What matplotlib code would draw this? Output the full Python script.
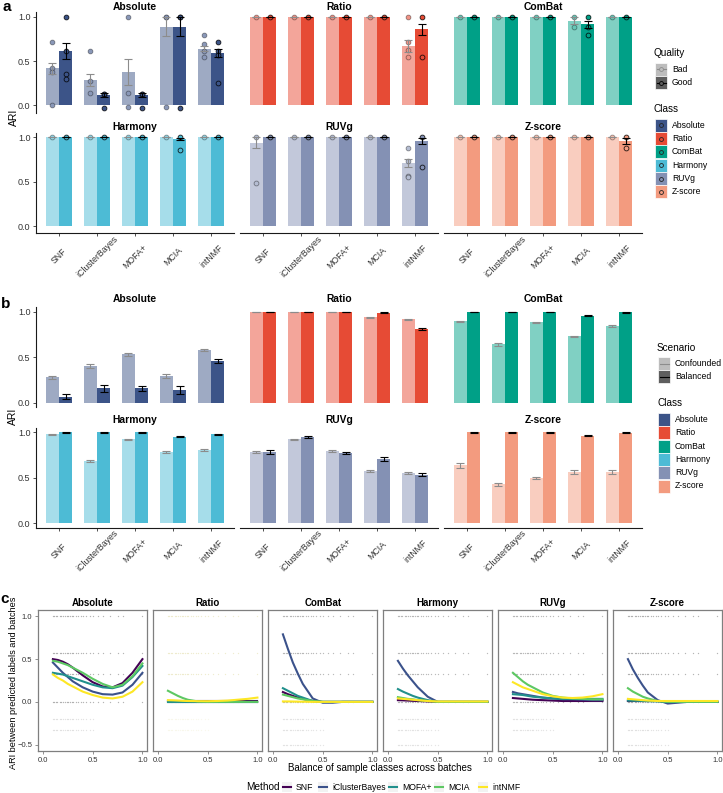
import numpy as np
import matplotlib
matplotlib.use('Agg')
import matplotlib.pyplot as plt
from matplotlib.patches import Rectangle
from matplotlib.colors import to_rgb

plt.rcParams['font.family'] = ['Liberation Sans', 'DejaVu Sans']

methods = ['SNF', 'iClusterBayes', 'MOFA+', 'MCIA', 'intNMF']
classes = ['Absolute', 'Ratio', 'ComBat', 'Harmony', 'RUVg', 'Z-score']
class_colors = ['#3C5488', '#E64B35', '#00A087', '#4DBBD5', '#8491B4', '#F39B7F']
method_colors = ['#440154', '#3B528B', '#21908C', '#5DC863', '#FDE725']

# panel a: mean ARI (bad / good quality), SE and individual runs
a_bad_mean = [[0.42, 0.29, 0.38, 0.89, 0.64],
              [1.0, 1.0, 1.0, 1.0, 0.67],
              [1.0, 1.0, 1.0, 0.96, 1.0],
              [1.0, 1.0, 1.0, 1.0, 1.0],
              [0.94, 1.0, 1.0, 1.0, 0.71],
              [1.0, 1.0, 1.0, 1.0, 1.0]]
a_bad_se = [[0.06, 0.07, 0.15, 0.11, 0.03],
            [0, 0, 0, 0, 0.07],
            [0, 0, 0, 0.035, 0],
            [0, 0, 0, 0, 0],
            [0.06, 0, 0, 0, 0.04],
            [0, 0, 0, 0, 0]]
a_good_mean = [[0.62, 0.12, 0.12, 0.89, 0.59],
               [1.0, 1.0, 1.0, 1.0, 0.86],
               [1.0, 1.0, 1.0, 0.92, 1.0],
               [1.0, 1.0, 1.0, 0.98, 1.0],
               [1.0, 1.0, 1.0, 1.0, 0.96],
               [1.0, 1.0, 1.0, 1.0, 0.96]]
a_good_se = [[0.09, 0.02, 0.02, 0.105, 0.045],
             [0, 0, 0, 0, 0.066],
             [0, 0, 0, 0.04, 0],
             [0, 0, 0, 0.015, 0],
             [0, 0, 0, 0, 0.035],
             [0, 0, 0, 0, 0.035]]
a_bad_pts = [[[0.72, 0.42, 0.38, 0.0], [0.61, 0.28, 0.135], [1.0, 0.135, -0.02], [1.0, 1.0, -0.02], [0.80, 0.69, 0.61, 0.55]],
             [[1.0], [1.0], [1.0], [1.0], [1.0, 0.72, 0.63, 0.55]],
             [[1.0], [1.0], [1.0], [1.0, 0.89], [1.0]],
             [[1.0], [1.0], [1.0], [1.0], [1.0]],
             [[1.0, 0.48], [1.0], [1.0], [1.0], [0.88, 0.73, 0.56, 0.55]],
             [[1.0], [1.0], [1.0], [1.0], [1.0]]]
a_good_pts = [[[1.0, 0.62, 0.36, 0.30], [0.13, 0.13, -0.03], [0.13, 0.13, -0.03], [1.0, 1.0, -0.03], [0.72, 0.62, 0.57, 0.25]],
              [[1.0], [1.0], [1.0], [1.0], [1.0, 0.55]],
              [[1.0], [1.0], [1.0], [1.0, 0.89, 0.80], [1.0]],
              [[1.0], [1.0], [1.0], [1.0, 0.86], [1.0]],
              [[1.0], [1.0], [1.0], [1.0], [1.0, 0.67]],
              [[1.0], [1.0], [1.0], [1.0], [1.0, 0.88]]]

# panel b: confounded / balanced scenario
b_conf_mean = [[0.278, 0.40, 0.53, 0.29, 0.575],
               [1.0, 1.0, 1.0, 0.938, 0.916],
               [0.897, 0.64, 0.886, 0.73, 0.846],
               [0.978, 0.685, 0.926, 0.785, 0.81],
               [0.785, 0.926, 0.796, 0.574, 0.556],
               [0.637, 0.43, 0.496, 0.563, 0.563]]
b_conf_se = [[0.015, 0.02, 0.015, 0.02, 0.01],
             [0.002, 0.002, 0.002, 0.005, 0.005],
             [0.005, 0.015, 0.005, 0.008, 0.01],
             [0.004, 0.012, 0.005, 0.008, 0.01],
             [0.01, 0.005, 0.008, 0.008, 0.01],
             [0.025, 0.015, 0.012, 0.02, 0.018]]
b_bal_mean = [[0.065, 0.157, 0.157, 0.14, 0.458],
              [1.0, 1.0, 1.0, 0.99, 0.81],
              [1.0, 1.0, 1.0, 0.956, 0.993],
              [1.0, 1.0, 1.0, 0.952, 0.98],
              [0.785, 0.952, 0.774, 0.707, 0.533],
              [1.0, 1.0, 1.0, 0.963, 0.995]]
b_bal_se = [[0.025, 0.035, 0.028, 0.04, 0.025],
            [0.002, 0.002, 0.002, 0.007, 0.012],
            [0.002, 0.002, 0.002, 0.006, 0.004],
            [0.002, 0.002, 0.002, 0.005, 0.005],
            [0.02, 0.01, 0.015, 0.018, 0.015],
            [0.002, 0.002, 0.002, 0.005, 0.004]]

# panel c: smoothed ARI(labels, batches) vs balance, per class and method
c_x = [0.1, 0.15, 0.2, 0.25, 0.3, 0.4, 0.5, 0.6, 0.7, 0.8, 0.9, 1.0]
c_curves = [
    [[0.50, 0.49, 0.47, 0.44, 0.40, 0.31, 0.23, 0.18, 0.17, 0.22, 0.34, 0.50],
     [0.46, 0.40, 0.34, 0.29, 0.24, 0.17, 0.12, 0.09, 0.085, 0.11, 0.20, 0.34],
     [0.34, 0.33, 0.32, 0.30, 0.28, 0.24, 0.20, 0.17, 0.16, 0.19, 0.29, 0.42],
     [0.48, 0.47, 0.45, 0.43, 0.40, 0.34, 0.27, 0.21, 0.17, 0.20, 0.30, 0.45],
     [0.32, 0.28, 0.25, 0.21, 0.18, 0.12, 0.08, 0.05, 0.04, 0.06, 0.12, 0.23]],
    [[0.01, 0.01, 0.01, 0.01, 0.01, 0.01, 0.01, 0.01, 0.01, 0.01, 0.01, 0.01],
     [0.0, 0.0, 0.0, 0.0, 0.0, 0.0, 0.0, 0.0, 0.0, 0.0, 0.0, 0.0],
     [0.0, 0.0, 0.0, 0.0, 0.0, 0.0, 0.0, 0.0, 0.0, 0.0, 0.0, 0.0],
     [0.13, 0.10, 0.07, 0.045, 0.025, 0.005, 0.0, 0.0, 0.0, 0.0, 0.0, 0.0],
     [0.02, 0.018, 0.015, 0.012, 0.01, 0.008, 0.008, 0.01, 0.015, 0.025, 0.035, 0.05]],
    [[0.115, 0.09, 0.07, 0.05, 0.035, 0.01, 0.0, 0.0, 0.0, 0.0, 0.0, 0.0],
     [0.79, 0.62, 0.46, 0.33, 0.21, 0.04, -0.01, -0.01, 0.0, 0.0, 0.0, 0.0],
     [0.16, 0.13, 0.10, 0.07, 0.05, 0.01, 0.0, 0.0, 0.0, 0.0, 0.0, 0.0],
     [0.085, 0.07, 0.055, 0.04, 0.03, 0.01, 0.0, 0.0, 0.0, 0.0, 0.0, 0.0],
     [0.005, 0.005, 0.004, 0.003, 0.002, 0.0, 0.0, 0.0, 0.0, 0.0, 0.0, 0.0]],
    [[0.02, 0.018, 0.015, 0.012, 0.01, 0.005, 0.0, 0.0, 0.0, 0.0, 0.0, 0.0],
     [0.48, 0.39, 0.31, 0.24, 0.17, 0.06, 0.0, 0.0, 0.0, 0.0, 0.0, 0.0],
     [0.15, 0.12, 0.095, 0.07, 0.05, 0.02, 0.0, 0.0, 0.0, 0.0, 0.0, 0.0],
     [0.055, 0.045, 0.035, 0.03, 0.02, 0.01, 0.0, 0.0, 0.0, 0.0, 0.0, 0.0],
     [0.04, 0.035, 0.03, 0.025, 0.02, 0.01, 0.005, 0.005, 0.005, 0.005, 0.005, 0.005]],
    [[0.045, 0.04, 0.035, 0.03, 0.025, 0.02, 0.015, 0.01, 0.01, 0.01, 0.01, 0.01],
     [0.116, 0.10, 0.09, 0.08, 0.07, 0.05, 0.04, 0.03, 0.03, 0.025, 0.02, 0.02],
     [0.09, 0.085, 0.08, 0.07, 0.06, 0.05, 0.04, 0.035, 0.035, 0.035, 0.035, 0.035],
     [0.34, 0.29, 0.24, 0.20, 0.17, 0.11, 0.07, 0.05, 0.04, 0.035, 0.03, 0.03],
     [0.23, 0.20, 0.17, 0.15, 0.13, 0.09, 0.065, 0.05, 0.045, 0.05, 0.065, 0.09]],
    [[0.01, 0.01, 0.01, 0.01, 0.01, 0.01, 0.0, 0.0, 0.0, 0.0, 0.0, 0.0],
     [0.50, 0.38, 0.28, 0.19, 0.11, 0.02, -0.02, -0.01, 0.0, 0.0, 0.0, 0.0],
     [0.015, 0.013, 0.012, 0.01, 0.008, 0.005, 0.0, 0.0, 0.0, 0.0, 0.0, 0.0],
     [0.16, 0.12, 0.09, 0.06, 0.04, 0.01, 0.0, 0.0, 0.0, 0.0, 0.0, 0.0],
     [0.035, 0.03, 0.025, 0.02, 0.015, 0.01, 0.01, 0.01, 0.01, 0.01, 0.01, 0.01]]]

# raw runs in panel c sit on a few discrete ARI levels
c_pt_x = [0.10, 0.11, 0.13, 0.14, 0.17, 0.18, 0.20, 0.22, 0.24, 0.25, 0.27, 0.29, 0.30,
          0.33, 0.35, 0.38, 0.40, 0.43, 0.47, 0.50, 0.55, 0.60, 0.67, 0.75, 0.80, 1.00]
c_levels = [1.0, 0.57, 0.33, 0.0]
c_neg_levels = [[-0.2, -0.33], [-0.2, -0.33], [-0.2, -0.33, -0.5],
                [-0.2, -0.33, -0.5], [-0.2, -0.33], [-0.2, -0.33, -0.5]]
c_pt_colors = ['#444444', '#D8D08A', '#555555', '#555555', '#555555', '#444444']

W, H = 723, 793
fig = plt.figure(figsize=(W / 100, H / 100), dpi=100)
TXT = '#333333'


def px_axes(x0, y0, x1, y1):
    return fig.add_axes([x0 / W, 1 - y1 / H, (x1 - x0) / W, (y1 - y0) / H])


def tint(c, a=0.5):
    r = np.array(to_rgb(c))
    return tuple(1 - a * (1 - r))


col_px = [(36, 234), (240, 438), (444, 642)]
a_rows = [(12.4, 112.6), (132.7, 233.3)]
b_rows = [(307.2, 407.2), (427.8, 527.8)]


def bar_facet(ax, k, row, col, lo_m, lo_se, hi_m, hi_se, ylim, tpad, lo_pts=None, hi_pts=None):
    x = np.arange(len(methods))
    c = class_colors[k]
    ax.bar(x - 0.175, lo_m, width=0.35, color=tint(c), zorder=1)
    ax.bar(x + 0.175, hi_m, width=0.35, color=c, zorder=1)
    if lo_pts is not None:
        for j in range(len(methods)):
            ax.scatter([x[j] - 0.175] * len(lo_pts[j]), lo_pts[j], s=12, facecolor=tint(c, 0.6),
                       edgecolor=(0, 0, 0, 0.4), linewidth=0.6, zorder=3)
            ax.scatter([x[j] + 0.175] * len(hi_pts[j]), hi_pts[j], s=12, facecolor=c,
                       edgecolor=(0, 0, 0, 0.85), linewidth=0.6, zorder=3)
    ax.errorbar(x - 0.175, lo_m, yerr=lo_se, fmt='none', ecolor='#8C8C8C', elinewidth=0.8,
                capsize=2.6, capthick=0.8, zorder=4)
    ax.errorbar(x + 0.175, hi_m, yerr=hi_se, fmt='none', ecolor='black', elinewidth=0.8,
                capsize=2.6, capthick=0.8, zorder=4)
    ax.set_xlim(-0.6, 4.6)
    ax.set_ylim(*ylim)
    ax.set_title(classes[k], fontsize=7.4, fontweight='bold', pad=tpad)
    ax.patch.set_alpha(0)
    for s in ['top', 'right']:
        ax.spines[s].set_visible(False)
    ax.spines['left'].set_visible(col == 0)
    ax.spines['bottom'].set_visible(row == 1)
    for s in ['left', 'bottom']:
        ax.spines[s].set_linewidth(0.8)
        ax.spines[s].set_color('#1a1a1a')
    ax.tick_params(labelsize=6.5, colors=TXT, length=2.5, width=0.6, pad=1.5)
    if col == 0:
        ax.set_yticks([0, 0.5, 1.0])
        ax.set_yticklabels(['0.0', '0.5', '1.0'])
    else:
        ax.set_yticks([])
    if row == 1:
        ax.set_xticks(x)
        ax.set_xticklabels(methods, rotation=45, ha='center', va='center', fontsize=6.3)
        ax.tick_params(axis='x', pad=14)
    else:
        ax.set_xticks([])


for k in range(6):
    row, col = divmod(k, 3)
    x0, x1 = col_px[col]
    ax = px_axes(x0, a_rows[row][0], x1, a_rows[row][1])
    bar_facet(ax, k, row, col, a_bad_mean[k], a_bad_se[k], a_good_mean[k], a_good_se[k],
              (-0.082, 1.052), 2, a_bad_pts[k], a_good_pts[k])
    ax = px_axes(x0, b_rows[row][0], x1, b_rows[row][1])
    bar_facet(ax, k, row, col, b_conf_mean[k], b_conf_se[k], b_bal_mean[k], b_bal_se[k],
              (-0.05, 1.05), 3.5)

# panel c
c_starts = [38, 153, 268, 383, 498, 613]
for k in range(6):
    ax = px_axes(c_starts[k], 610, c_starts[k] + 109.4, 751)
    for lv in c_levels:
        ax.scatter(c_pt_x, [lv] * len(c_pt_x), s=0.9, color=c_pt_colors[k], alpha=0.4,
                   linewidths=0, zorder=1)
    for lv in c_neg_levels[k]:
        ax.scatter(c_pt_x[:20], [lv] * 20, s=0.9, color=c_pt_colors[k], alpha=0.15,
                   linewidths=0, zorder=1)
    for m in range(len(methods)):
        ax.plot(c_x, c_curves[k][m], color=method_colors[m], lw=1.5, zorder=3)
    ax.set_xlim(-0.05, 1.05)
    ax.set_ylim(-0.575, 1.075)
    ax.set_title(classes[k], fontsize=7, fontweight='bold', pad=3)
    for s in ax.spines.values():
        s.set_color('#7F7F7F')
        s.set_linewidth(0.9)
    ax.tick_params(labelsize=5.5, colors='#7F7F7F', labelcolor=TXT, length=2.5, width=0.6, pad=1.5)
    ax.set_xticks([0, 0.5, 1.0])
    ax.set_xticklabels(['0.0', '0.5', '1.0'])
    if k == 0:
        ax.set_yticks([-0.5, 0, 0.5, 1.0])
        ax.set_yticklabels(['\u22120.5', '0.0', '0.5', '1.0'])
    else:
        ax.set_yticks([])

# overlay for labels and legends (pixel coordinates)
ov = fig.add_axes([0, 0, 1, 1])
ov.set_xlim(0, W)
ov.set_ylim(H, 0)
ov.axis('off')
ov.patch.set_alpha(0)

for lab, (lx, ly) in zip(['a', 'b', 'c'], [(7, 7), (6, 304), (4.5, 599)]):
    ov.text(lx, ly, lab, fontsize=11, fontweight='bold', ha='center', va='center')
ov.text(14, 117, 'ARI', fontsize=7.5, rotation=90, ha='center', va='center')
ov.text(13, 416, 'ARI', fontsize=7.5, rotation=90, ha='center', va='center')
ov.text(13.5, 683, 'ARI between predicted labels and batches', fontsize=6.6, rotation=90,
        ha='center', va='center')
ov.text(380, 768, 'Balance of sample classes across batches', fontsize=7, ha='center', va='center')


def legend_block(title_y, group_title, group_labels, group_ys, key_x, text_x, with_point):
    ov.text(key_x - 1, title_y, group_title, fontsize=7.2, va='center')
    shades = [('#BDBDBD', '#8C8C8C'), ('#5E5E5E', 'black')]
    for (fc, lc), lab, yy in zip(shades, group_labels, group_ys):
        ov.add_patch(Rectangle((key_x, yy - 6.5), 12, 13, facecolor=fc, edgecolor='white', lw=0.5))
        ov.plot([key_x + 1.5, key_x + 10.5], [yy, yy], color=lc, lw=0.8)
        if with_point:
            ov.plot(key_x + 6, yy, 'o', ms=2.8, mfc=fc, mec=lc, mew=0.6)
        ov.text(text_x, yy, lab, fontsize=6.2, va='center')


legend_block(53, 'Quality', ['Bad', 'Good'], [69, 82.5], 655, 672, True)
ov.text(654, 109, 'Class', fontsize=7.2, va='center')
for i, (cl, cc) in enumerate(zip(classes, class_colors)):
    yy = 125.3 + 13.3 * i
    ov.add_patch(Rectangle((655, yy - 6.5), 12, 13, facecolor=cc, edgecolor='white', lw=0.5))
    ov.plot(655 + 6, yy, 'o', ms=2.8, mfc=cc, mec='#222222', mew=0.6)
    ov.text(672, yy, cl, fontsize=6.2, va='center')

legend_block(348, 'Scenario', ['Confounded', 'Balanced'], [363.5, 376.7], 658, 675, False)
ov.text(657, 403, 'Class', fontsize=7.2, va='center')
for i, (cl, cc) in enumerate(zip(classes, class_colors)):
    yy = 419.5 + 13.3 * i
    ov.add_patch(Rectangle((658, yy - 6.5), 12, 13, facecolor=cc, edgecolor='white', lw=0.5))
    ov.text(675, yy, cl, fontsize=6.2, va='center')

# method legend at the bottom
ov.text(246, 787, 'Method', fontsize=7.2, va='center')
key_xs = [287, 323, 393, 439, 483]
for m, kx in enumerate(key_xs):
    ov.add_patch(Rectangle((kx - 5, 782), 10, 10, facecolor='#F2F2F2', edgecolor='none'))
    ov.plot([kx - 4, kx + 4], [787, 787], color=method_colors[m], lw=1.5)
    ov.text(kx + 9, 787, methods[m], fontsize=6.2, va='center')

fig.savefig('out.png', dpi=100)
